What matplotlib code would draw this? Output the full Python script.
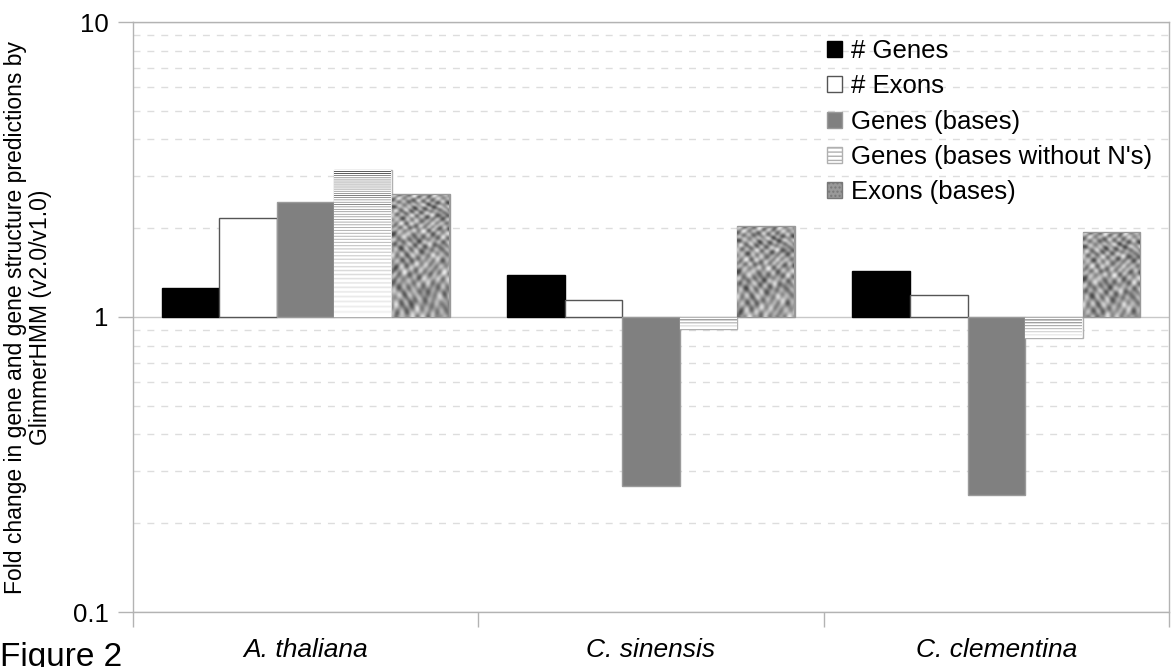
import numpy as np
import matplotlib
matplotlib.use("Agg")
import matplotlib.pyplot as plt
from matplotlib.patches import Patch
from matplotlib.ticker import FixedLocator, NullFormatter

plt.rcParams["font.family"] = ["Liberation Sans", "DejaVu Sans"]
plt.rcParams["hatch.color"] = "#bbbbbb"

# fold change v2.0 / v1.0 per species
species = ["A. thaliana", "C. sinensis", "C. clementina"]
series = ["# Genes", "# Exons", "Genes (bases)", "Genes (bases without N's)", "Exons (bases)"]
n_genes = [1.25, 1.39, 1.43]
n_exons = [2.17, 1.14, 1.19]
gene_bases = [2.45, 0.267, 0.249]
gene_bases_no_n = [3.15, 0.91, 0.85]
exon_bases = [2.61, 2.03, 1.94]
values = [n_genes, n_exons, gene_bases, gene_bases_no_n, exon_bases]

fig = plt.figure(figsize=(11.72, 6.67), dpi=100)
ax = fig.add_axes([133 / 1172, 1 - 612 / 667, 1036 / 1172, 590 / 667])
ax.set_yscale("log")
ax.set_ylim(0.1, 10)
ax.set_xlim(-0.5, 2.5)

width = 1 / 6
x = np.arange(len(species))
styles = [
    dict(facecolor="black", edgecolor="black"),
    dict(facecolor="white", edgecolor="#555555"),
    dict(facecolor="#808080", edgecolor="#9a9a9a"),
    dict(facecolor="white", edgecolor="#b0b0b0"),
    dict(facecolor="#999999", edgecolor="#999999"),
]

bars = []
for i, (vals, st) in enumerate(zip(values, styles)):
    vals = np.array(vals)
    b = ax.bar(x + (i - 2) * width, vals - 1, width, bottom=1, linewidth=1, zorder=3, **st)
    bars.append(b)


def pixel_size(rect):
    x0, y0 = rect.get_x(), rect.get_y()
    x1, y1 = x0 + rect.get_width(), y0 + rect.get_height()
    p0 = ax.transData.transform((x0, y0))
    p1 = ax.transData.transform((x1, y1))
    return abs(p1[0] - p0[0]), abs(p1[1] - p0[1])


def fill_image(rect, img):
    x0 = rect.get_x()
    y0, y1 = sorted([rect.get_y(), rect.get_y() + rect.get_height()])
    im = ax.imshow(img, cmap="gray", vmin=0, vmax=1, origin="upper", aspect="auto",
                   extent=(x0, x0 + rect.get_width(), y0, y1), interpolation="bilinear",
                   zorder=3.5)
    im.set_clip_path(rect)


# striped fill, dark at the top fading out downwards
for rect in bars[3]:
    w, h = pixel_size(rect)
    rows = max(int(round(h)), 3)
    r = np.arange(rows)
    dark = 0.7 * (1 - r / rows) ** 1.3 + 0.06
    col = np.where(r % 3 == 0, 1 - dark, 1.0)
    fill_image(rect, np.tile(col[:, None], (1, 4)))

# blotchy woven texture fill
for rect in bars[4]:
    w, h = pixel_size(rect)
    cols, rows = int(round(w)), max(int(round(h)), 3)
    xx, yy = np.meshgrid(np.arange(cols), np.arange(rows))
    tex = (np.sin(xx / 1.6 + 1.3 * np.sin(yy / 7.1)) * np.sin(yy / 1.8 + 1.1 * np.sin(xx / 6.3))
           + 0.7 * np.sin(xx / 3.3 + 2.0 * np.sin(yy / 5.0)) * np.cos(yy / 2.9 + 1.5 * np.sin(xx / 4.0))
           + 0.5 * np.sin(xx / 4.3 + yy / 11.0) * np.sin(yy / 3.7 - xx / 13.0))
    tex = 0.6 + 0.16 * tex
    fill_image(rect, np.clip(tex, 0.3, 0.92))

ax.set_xlim(-0.5, 2.5)
ax.set_ylim(0.1, 10)

# grid
ax.yaxis.set_minor_locator(FixedLocator([m * 10.0 ** e for e in (-1, 0) for m in range(2, 10)]))
ax.yaxis.set_minor_formatter(NullFormatter())
ax.grid(which="minor", axis="y", color="#dddddd", linestyle=(0, (5, 5)), linewidth=1, zorder=0)
ax.grid(which="major", axis="y", color="#c8c8c8", linestyle="-", linewidth=1, zorder=0)
ax.set_yticks([0.1, 1, 10])
ax.set_yticklabels(["0.1", "1", "10"])
ax.tick_params(axis="y", which="major", length=11, width=1, color="#b3b3b3", labelsize=18.5, pad=6.5)
ax.tick_params(axis="y", which="minor", length=0)

ax.set_xticks(x)
ax.set_xticklabels(species, fontstyle="italic")
ax.xaxis.set_minor_locator(FixedLocator([-0.5, 0.5, 1.5, 2.5]))
ax.tick_params(axis="x", which="major", length=0, labelsize=19, pad=19)
ax.tick_params(axis="x", which="minor", length=11, width=1, color="#b3b3b3")

for s in ax.spines.values():
    s.set_color("#b3b3b3")
    s.set_linewidth(1)

ax.set_ylabel("Fold change in gene and gene structure predictions by\nGlimmerHMM (v2.0/v1.0)",
              fontsize=16.5, linespacing=1.1)
ax.yaxis.set_label_coords(-0.078, 0.5)

handles = [
    Patch(facecolor="black", edgecolor="black"),
    Patch(facecolor="white", edgecolor="#555555"),
    Patch(facecolor="#808080", edgecolor="#9a9a9a"),
    Patch(facecolor="white", edgecolor="#b0b0b0", hatch="----"),
    Patch(facecolor="#999999", edgecolor="#777777", hatch="...."),
]
fig.legend(handles, series, loc="upper left", bbox_to_anchor=(827 / 1172, 1 - 39 / 667),
           frameon=False, fontsize=18.5, handlelength=0.58, handleheight=0.58,
           handletextpad=0.35, labelspacing=0.44, borderpad=0, borderaxespad=0)

fig.text(0.0, 1 - 642 / 667, "Figure 2", fontsize=24, va="top", ha="left")

fig.savefig("out.png", dpi=100)
